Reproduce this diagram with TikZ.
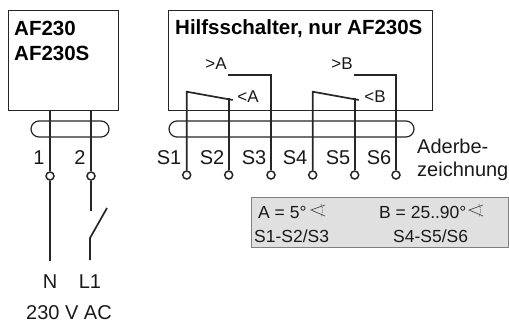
\documentclass[tikz,border=0pt]{standalone}
\usepackage{fontspec}
\setmainfont{Liberation Sans}
\tikzset{
  wire/.style={draw=black!85, line width=1.7pt},
  cable/.style={draw=black!85, line width=1.2pt, rounded corners=8pt},
  term/.style={circle, draw=black!85, line width=1.5pt, fill=white, minimum size=8pt, inner sep=0pt},
  lab/.style={font=\fontsize{20}{22}\selectfont, text=black!90, inner sep=0pt},
  small/.style={font=\fontsize{17}{20}\selectfont, text=black!90, inner sep=0pt},
  tabt/.style={font=\fontsize{17.5}{20}\selectfont, text=black!90, inner sep=0pt, anchor=west},
  head/.style={font=\fontsize{20.5}{22}\selectfont\bfseries, inner sep=0pt, anchor=west},
  box/.style={draw=black!85, line width=1.4pt, inner sep=0pt},
  ang/.style={draw=black!70, line width=0.7pt}
}
\begin{document}
\begin{tikzpicture}[x=1pt,y=-1pt]
\useasboundingbox (0,0) rectangle (509,322);
% boxes
\node[box, minimum width=110.5pt, minimum height=100.5pt, anchor=north west] (bl) at (7.5,9.5) {};
\node[box, minimum width=264pt, minimum height=100pt, anchor=north west] (br) at (167.7,10) {};
\node[head] (t1) at (14,28.5) {AF230};
\node[head] (t2) at (14,53.5) {AF230S};
\node[head] (t3) at (175,28.5) {Hilfsschalter, nur AF230S};
% cables
\draw[cable] (31,121) rectangle (109,137);
\draw[cable] (169,121) rectangle (414,137);
% terminals
\foreach \n/\x/\y in {p1/50/176,p2/91/176,s1/186.7/175,s2/228.7/175,s3/271/175,s4/312.7/175,s5/354.7/175,s6/396/175}
  \node[term] (\n) at (\x,\y) {};
% left wires
\coordinate (n) at (50,261);
\coordinate (la) at (91,211);
\coordinate (lb) at (107,208);
\coordinate (lc) at (90,238);
\coordinate (ld) at (90,260);
\draw[wire] (50,110) -- (p1);
\draw[wire] (91,110) -- (p2);
\draw[wire] (p1) -- (n);
\draw[wire] (p2) -- (la);
\draw[wire] (lb) -- (lc) -- (ld);
% contacts
\draw[wire] (s1) -- (186.7,91.7) -- (232.7,100);
\draw[wire] (s2) -- (228.7,98);
\draw[wire] (228,75) -- (271,75) -- (s3);
\draw[wire] (s4) -- (312.7,91.7) -- (358.7,100);
\draw[wire] (s5) -- (354.7,98);
\draw[wire] (354,75) -- (396,75) -- (s6);
% labels
\node[small] (ga) at (216,64) {>A};
\node[small] (la2) at (248,97) {<A};
\node[small] (gb) at (342,64) {>B};
\node[small] (lb2) at (375,97) {<B};
\foreach \n/\t/\x in {c1/1/39,c2/2/80,a1/S1/169,a2/S2/212,a3/S3/254,a4/S4/295,a5/S5/338,a6/S6/379}
  \node[lab] (\n) at (\x,158) {\t};
\node[lab,anchor=west] (ad1) at (417,146) {Aderbe-};
\node[lab,anchor=west] (ad2) at (417,171) {zeichnung};
\node[lab] (nn) at (50,282) {N};
\node[lab] (l1) at (90,282) {L1};
\node[lab] (v) at (69,313) {230 V AC};
% table
\node[draw=black!50, line width=1.2pt, fill=black!12, minimum width=256.5pt, minimum height=50pt, anchor=north west, inner sep=0pt] (tb) at (251,197) {};
\node[tabt] (ta) at (258,212) {A = 5°};
\node[tabt] (tb1) at (379,212) {B = 25..90°};
\node[tabt] (tc) at (254,236) {S1-S2/S3};
\node[tabt] (td) at (393,236) {S4-S5/S6};
% angle signs
\draw[ang] (325,205) -- (311,210) -- (325,216);
\draw[ang, densely dotted] (321,204) .. controls (323,208) and (323,213) .. (321,217);
\draw[ang] (483,205) -- (469,210) -- (483,216);
\draw[ang, densely dotted] (479,204) .. controls (481,208) and (481,213) .. (479,217);
\end{tikzpicture}
\end{document}
